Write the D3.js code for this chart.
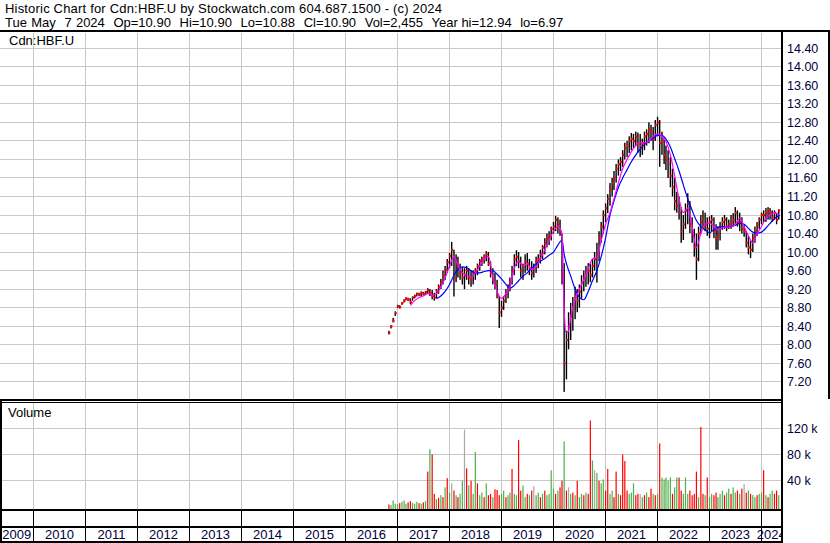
<!DOCTYPE html>
<html>
<head>
<meta charset="utf-8">
<script src="https://cdn.jsdelivr.net/npm/d3@7"></script>
<style>
  html, body { margin: 0; padding: 0; background: #fff; }
  svg { display: block; font-family: "Liberation Sans", Arial, sans-serif; }
  .hdr { font-size: 13px; fill: #000; }
  .lbl { font-size: 13px; fill: #000; }
  .axis-label { font-size: 12.5px; fill: #00003c; }
  .year-label { font-size: 13px; fill: #00003c; }
</style>
</head>
<body>
<div id="chart"></div>
<script>
////////////////////////////////////////////////////////////////////
////////////////////////////  Data  ////////////////////////////////
const title = "Historic Chart for Cdn:HBF.U by Stockwatch.com 604.687.1500 - (c) 2024";
const quoteFields = ["Tue", "May", "7", "2024", "Op=10.90", "Hi=10.90", "Lo=10.88", "Cl=10.90", "Vol=2,455", "Year hi=12.94", "lo=6.97"];
const symbol = "Cdn:HBF.U";

// half-month slots (1st and 16th) starting Nov 2016
const firstSlot = "2016-11-01";

const hi = [
  8.30, 8.42, 8.58, 8.72,
  8.86, 8.85, 8.92, 8.98, 9.02, 9.01, 9.00, 9.04, 9.08, 9.12, 9.12, 9.15,
  9.14, 9.16, 9.22, 9.20, 9.18, 9.12, 9.20, 9.30, 9.42, 9.60, 9.70, 9.85,
  9.98, 10.22, 10.05, 9.95, 9.90, 9.75, 9.68, 9.65, 9.70, 9.65, 9.60, 9.60,
  9.65, 9.75, 9.85, 9.90, 9.95, 10.02, 10.00, 9.80, 9.65, 9.55, 9.40, 9.05,
  8.95, 9.05, 9.20, 9.30, 9.45, 9.70, 9.95, 10.04, 10.00, 9.90, 9.75, 9.95,
  9.98, 9.85, 9.80, 9.75, 9.90, 9.95, 10.05, 10.15, 10.30, 10.40, 10.45, 10.55,
  10.65, 10.78, 10.75, 10.70, 10.40, 9.76, 8.30, 8.70, 8.90, 9.03, 9.25, 9.20,
  9.30, 9.50, 9.60, 9.70, 9.76, 9.75, 9.85, 10.00, 10.20, 10.45, 10.65, 10.90,
  11.05, 11.25, 11.49, 11.60, 11.75, 11.90, 12.00, 12.05, 12.20, 12.36, 12.40, 12.50,
  12.57, 12.55, 12.60, 12.58, 12.55, 12.45, 12.60, 12.65, 12.80, 12.75, 12.70, 12.85,
  12.92, 12.85, 12.60, 12.45, 12.30, 12.20, 12.05, 11.80, 11.60, 11.30, 11.20, 10.97,
  10.80, 11.05, 11.27, 11.10, 10.75, 10.50, 10.40, 10.55, 10.80, 10.90, 10.85, 10.75,
  10.77, 10.80, 10.75, 10.60, 10.55, 10.65, 10.75, 10.80, 10.75, 10.70, 10.80, 10.84,
  10.97, 10.90, 10.85, 10.75, 10.60, 10.45, 10.35, 10.25, 10.40, 10.55, 10.65, 10.75,
  10.85, 10.90, 10.95, 10.97, 10.95, 10.90, 10.90, 10.85, 10.92
];
const lo = [
  8.22, 8.35, 8.48, 8.62,
  8.79, 8.78, 8.86, 8.91, 8.96, 8.94, 8.88, 8.95, 9.00, 9.04, 9.05, 9.05,
  9.06, 9.08, 9.10, 9.05, 8.98, 8.95, 9.00, 9.10, 9.20, 9.30, 9.40, 9.55,
  9.65, 9.70, 9.04, 9.35, 9.45, 9.40, 9.30, 9.20, 9.40, 9.30, 9.25, 9.30,
  9.40, 9.50, 9.60, 9.70, 9.75, 9.80, 9.70, 9.45, 9.30, 9.20, 9.00, 8.36,
  8.60, 8.75, 8.90, 9.00, 9.15, 9.30, 9.50, 9.70, 9.65, 9.45, 9.40, 9.55,
  9.60, 9.50, 9.40, 9.45, 9.55, 9.65, 9.75, 9.85, 9.95, 10.10, 10.15, 10.25,
  10.40, 10.45, 10.40, 10.35, 9.30, 6.98, 7.25, 7.90, 8.10, 8.30, 8.55, 8.70,
  8.80, 9.00, 9.15, 9.25, 9.30, 9.35, 9.45, 9.60, 9.34, 9.80, 10.20, 10.40,
  10.65, 10.84, 11.00, 11.20, 11.34, 11.50, 11.65, 11.75, 11.84, 12.00, 12.05, 12.14,
  12.20, 12.25, 12.30, 12.15, 12.05, 12.10, 12.20, 12.30, 12.35, 12.40, 12.20, 12.40,
  12.50, 11.84, 12.10, 11.90, 11.77, 11.60, 11.40, 11.20, 10.90, 10.85, 10.70, 10.20,
  10.26, 10.50, 10.60, 10.41, 10.20, 9.90, 9.40, 9.80, 10.40, 10.50, 10.45, 10.35,
  10.30, 10.45, 10.30, 10.05, 10.05, 10.25, 10.48, 10.50, 10.45, 10.50, 10.50, 10.55,
  10.60, 10.55, 10.45, 10.40, 10.33, 10.10, 9.95, 9.87, 10.00, 10.20, 10.35, 10.50,
  10.60, 10.65, 10.65, 10.70, 10.70, 10.65, 10.70, 10.60, 10.70
];
const close = [
  8.26, 8.40, 8.52, 8.68,
  8.83, 8.81, 8.90, 8.95, 9.00, 8.98, 8.92, 9.02, 9.05, 9.10, 9.08, 9.12,
  9.10, 9.14, 9.18, 9.12, 9.05, 9.02, 9.15, 9.25, 9.35, 9.50, 9.62, 9.78,
  9.92, 10.05, 9.45, 9.80, 9.70, 9.55, 9.45, 9.50, 9.60, 9.45, 9.40, 9.55,
  9.60, 9.70, 9.80, 9.85, 9.90, 9.95, 9.75, 9.55, 9.40, 9.30, 9.05, 8.70,
  8.80, 8.95, 9.10, 9.22, 9.35, 9.60, 9.85, 9.90, 9.80, 9.60, 9.70, 9.80,
  9.75, 9.65, 9.55, 9.65, 9.80, 9.85, 9.95, 10.10, 10.20, 10.30, 10.35, 10.50,
  10.55, 10.70, 10.60, 10.45, 9.50, 7.60, 8.10, 8.40, 8.60, 8.80, 9.05, 8.95,
  9.15, 9.35, 9.45, 9.55, 9.60, 9.50, 9.70, 9.85, 9.95, 10.30, 10.55, 10.80,
  10.95, 11.15, 11.35, 11.50, 11.60, 11.80, 11.90, 11.95, 12.10, 12.25, 12.30, 12.40,
  12.45, 12.40, 12.50, 12.35, 12.30, 12.35, 12.50, 12.55, 12.65, 12.60, 12.45, 12.75,
  12.80, 12.35, 12.40, 12.10, 12.00, 11.90, 11.65, 11.40, 11.10, 11.00, 10.85, 10.45,
  10.60, 10.90, 11.05, 10.60, 10.40, 10.10, 9.85, 10.40, 10.65, 10.75, 10.60, 10.50,
  10.65, 10.70, 10.45, 10.30, 10.35, 10.55, 10.65, 10.70, 10.55, 10.60, 10.65, 10.70,
  10.85, 10.65, 10.65, 10.50, 10.45, 10.20, 10.10, 10.05, 10.30, 10.45, 10.60, 10.70,
  10.80, 10.80, 10.85, 10.90, 10.85, 10.75, 10.85, 10.70, 10.90
];
// volume in thousands per slot
const volume = [
  4, 3, 10, 5,
  4, 6, 8, 10, 5, 7, 9, 6, 5, 8, 6, 5,
  7, 9, 54, 88, 80, 20, 12, 14, 18, 15, 30, 44,
  22, 36, 25, 18, 15, 20, 40, 118, 59, 33, 40, 20,
  84, 36, 18, 22, 15, 36, 18, 20, 15, 27, 26, 18,
  20, 25, 15, 18, 22, 58, 20, 18, 102, 25, 33, 15,
  20, 18, 25, 32, 18, 22, 15, 20, 25, 18, 20, 56,
  28, 20, 25, 30, 40, 100, 25, 30, 20, 22, 18, 40,
  15, 20, 18, 22, 20, 132, 71, 56, 52, 40, 36, 42,
  25, 58, 20, 25, 15, 54, 20, 18, 80, 70, 25, 20,
  22, 36, 18, 20, 20, 15, 18, 22, 15, 28, 20, 18,
  20, 97, 45, 42, 45, 40, 45, 20, 30, 45, 45, 25,
  20, 45, 20, 25, 18, 20, 54, 15, 122, 20, 18, 45,
  15, 20, 18, 22, 15, 20, 25, 18, 22, 28, 20, 30,
  22, 25, 20, 28, 35, 22, 25, 20, 18, 15, 18, 20,
  22, 56, 18, 15, 20, 25, 20, 25, 18
];
// bar colour per slot: u = up (green), d = down (red), n = unchanged (grey)
const volDir = [
  "duuu",
  "uduuudduuudud" + "ududdududud",
  "undudu" + "undudu" + "uduudu" + "dduddd",
  "uuduud" + "uudduu" + "dudnuu" + "duduuu",
  "ududdu" + "dnudud" + "uududd" + "unuduu",
  "dduudd" + "uddddu" + "uuddnu" + "duddud",
  "uduuuu" + "uduudd" + "uuuddd" + "duddud",
  "uudduu" + "uduudu" + "ududnd" + "uduudu",
  "ududuuddu"
].join("");

// moving averages (short = magenta, long = blue)
const maShort = [
  ["2017-04-01", 8.85], ["2017-05-01", 8.95], ["2017-06-01", 9.02], ["2017-07-01", 9.05],
  ["2017-08-01", 9.10], ["2017-09-01", 9.07], ["2017-10-01", 9.10], ["2017-11-01", 9.25],
  ["2017-12-01", 9.44], ["2018-01-01", 9.70], ["2018-02-01", 9.90], ["2018-03-01", 9.72],
  ["2018-04-01", 9.55], ["2018-05-01", 9.50], ["2018-06-01", 9.45], ["2018-07-01", 9.55],
  ["2018-08-01", 9.70], ["2018-09-01", 9.85], ["2018-10-01", 9.90], ["2018-11-01", 9.45],
  ["2018-12-01", 9.15], ["2019-01-01", 9.00], ["2019-02-01", 9.10], ["2019-03-01", 9.25],
  ["2019-04-01", 9.65], ["2019-05-01", 9.80], ["2019-06-01", 9.70], ["2019-07-01", 9.75],
  ["2019-08-01", 9.62], ["2019-09-01", 9.68], ["2019-10-01", 9.85], ["2019-11-01", 10.05],
  ["2019-12-01", 10.25], ["2020-01-01", 10.45], ["2020-02-01", 10.55], ["2020-03-01", 10.40],
  ["2020-03-16", 8.75], ["2020-04-01", 8.25], ["2020-04-16", 8.30], ["2020-05-01", 8.60],
  ["2020-06-01", 8.97], ["2020-07-01", 9.20], ["2020-08-01", 9.40], ["2020-09-01", 9.65],
  ["2020-10-01", 9.85], ["2020-11-01", 9.88], ["2020-12-01", 10.25], ["2021-01-01", 10.60],
  ["2021-02-01", 10.85], ["2021-03-01", 11.15], ["2021-04-01", 11.50], ["2021-05-01", 11.80],
  ["2021-06-01", 12.00], ["2021-07-01", 12.17], ["2021-08-01", 12.30], ["2021-09-01", 12.36],
  ["2021-10-01", 12.36], ["2021-11-01", 12.40], ["2021-12-01", 12.50], ["2022-01-01", 12.55],
  ["2022-02-01", 12.50], ["2022-03-01", 12.38], ["2022-04-01", 12.10], ["2022-05-01", 11.65],
  ["2022-06-01", 11.15], ["2022-07-01", 10.85], ["2022-08-01", 10.95], ["2022-09-01", 10.55],
  ["2022-10-01", 10.10], ["2022-11-01", 10.40], ["2022-12-01", 10.60], ["2023-01-01", 10.63],
  ["2023-02-01", 10.55], ["2023-03-01", 10.48], ["2023-04-01", 10.52], ["2023-05-01", 10.54],
  ["2023-06-01", 10.54], ["2023-07-01", 10.60], ["2023-08-01", 10.73], ["2023-09-01", 10.55],
  ["2023-10-01", 10.35], ["2023-11-01", 10.20], ["2023-12-01", 10.40], ["2024-01-01", 10.55],
  ["2024-02-01", 10.74], ["2024-03-01", 10.80], ["2024-04-01", 10.84], ["2024-05-07", 10.80]
];
const maLong = [
  ["2017-10-01", 8.99], ["2017-11-01", 9.05], ["2017-12-01", 9.15], ["2018-01-01", 9.30],
  ["2018-02-01", 9.50], ["2018-03-01", 9.63], ["2018-04-01", 9.68], ["2018-05-01", 9.66],
  ["2018-06-01", 9.60], ["2018-07-01", 9.55], ["2018-08-01", 9.55], ["2018-09-01", 9.58],
  ["2018-10-01", 9.60], ["2018-11-01", 9.60], ["2018-12-01", 9.52], ["2019-01-01", 9.42],
  ["2019-02-01", 9.30], ["2019-03-01", 9.22], ["2019-04-01", 9.28], ["2019-05-01", 9.38],
  ["2019-06-01", 9.48], ["2019-07-01", 9.55], ["2019-08-01", 9.65], ["2019-09-01", 9.74],
  ["2019-10-01", 9.80], ["2019-11-01", 9.86], ["2019-12-01", 9.93], ["2020-01-01", 10.00],
  ["2020-02-01", 10.15], ["2020-03-01", 10.26], ["2020-03-16", 9.95], ["2020-04-01", 9.75],
  ["2020-05-01", 9.48], ["2020-06-01", 9.20], ["2020-07-01", 9.02], ["2020-08-01", 8.97],
  ["2020-09-01", 9.15], ["2020-10-01", 9.38], ["2020-11-01", 9.60], ["2020-12-01", 9.90],
  ["2021-01-01", 10.30], ["2021-02-01", 10.80], ["2021-03-01", 11.10], ["2021-04-01", 11.40],
  ["2021-05-01", 11.60], ["2021-06-01", 11.78], ["2021-07-01", 11.95], ["2021-08-01", 12.10],
  ["2021-09-01", 12.22], ["2021-10-01", 12.32], ["2021-11-01", 12.40], ["2021-12-01", 12.46],
  ["2022-01-01", 12.52], ["2022-02-01", 12.52], ["2022-03-01", 12.44], ["2022-04-01", 12.27],
  ["2022-05-01", 12.02], ["2022-06-01", 11.75], ["2022-07-01", 11.45], ["2022-08-01", 11.15],
  ["2022-09-01", 10.90], ["2022-10-01", 10.68], ["2022-11-01", 10.55], ["2022-12-01", 10.48],
  ["2023-01-01", 10.42], ["2023-02-01", 10.48], ["2023-03-01", 10.54], ["2023-04-01", 10.55],
  ["2023-05-01", 10.54], ["2023-06-01", 10.55], ["2023-07-01", 10.58], ["2023-08-01", 10.62],
  ["2023-09-01", 10.60], ["2023-10-01", 10.51], ["2023-11-01", 10.43], ["2023-12-01", 10.41],
  ["2024-01-01", 10.43], ["2024-02-01", 10.52], ["2024-03-01", 10.62], ["2024-04-01", 10.72],
  ["2024-05-07", 10.80]
];

// ticks
const priceTicks = [7.2, 7.6, 8.0, 8.4, 8.8, 9.2, 9.6, 10.0, 10.4, 10.8, 11.2, 11.6, 12.0, 12.4, 12.8, 13.2, 13.6, 14.0, 14.4];
const volTicks = [40, 80, 120];
const years = [2009, 2010, 2011, 2012, 2013, 2014, 2015, 2016, 2017, 2018, 2019, 2020, 2021, 2022, 2023, 2024];

////////////////////////////////////////////////////////////////////
////////////////////////////  Init  ////////////////////////////////
const width = 830;
const height = 543;
const plotRight = 781;      // right axis line
const price = { top: 33, bottom: 399 };
const vol = { top: 403, bottom: 509 };

const svg = d3.select("#chart").append("svg")
  .attr("width", width).attr("height", height);

const parse = d3.timeParse("%Y-%m-%d");

const xScale = d3.scaleTime()
  .domain([new Date(2010, 0, 1), new Date(2024, 0, 1)])
  .range([33.5, 761.5]);
const yScale = d3.scaleLinear().domain([7.2, 14.4]).range([381.7, 48.3]);
const vScale = d3.scaleLinear().domain([0, 120]).range([507, 428.3]);

// half-month slot dates
const start = parse(firstSlot);
const months = d3.timeMonth.range(start, new Date(2024, 5, 1));
const slotDates = months.flatMap((m) => [m, d3.timeDay.offset(m, 15)]).slice(0, hi.length);
const bars = slotDates.map((d, i) => ({
  date: d, hi: hi[i], lo: lo[i], close: close[i], vol: volume[i], dir: volDir[i] || "u"
}));

const volColor = { u: "#4cb04a", d: "#ff0000", n: "#a8a8a8" };

// clips
const defs = svg.append("defs");
defs.append("clipPath").attr("id", "clip-price").append("rect")
  .attr("x", 0).attr("y", price.top).attr("width", plotRight).attr("height", price.bottom - price.top);
defs.append("clipPath").attr("id", "clip-vol").append("rect")
  .attr("x", 0).attr("y", vol.top).attr("width", plotRight).attr("height", vol.bottom - vol.top);
defs.append("clipPath").attr("id", "clip-axis").append("rect")
  .attr("x", 0).attr("y", 500).attr("width", plotRight).attr("height", 43);

const yearStarts = years.slice(1).map((y) => xScale(new Date(y, 0, 1)));

////////////////////////////  Header  //////////////////////////////
svg.append("text").attr("class", "hdr").attr("x", 5).attr("y", 13)
  .attr("textLength", 437).attr("lengthAdjust", "spacing")
  .text(title);

// quote line: fields laid out one after another, single gap after Tue and 7, double elsewhere
const quote = svg.append("text").attr("class", "hdr").attr("y", 27);
const spans = quote.selectAll("tspan").data(quoteFields).enter().append("tspan").text((d) => d);
const widths = spans.nodes().map((n) => n.getComputedTextLength());
const gapUnits = [1, 2, 1, 2, 2, 2, 2, 2, 2, 2];
const yearIdx = 9;
const usedBeforeYear = d3.sum(widths.slice(0, yearIdx));
const unitsBeforeYear = d3.sum(gapUnits.slice(0, yearIdx));
const unit = (431.5 - 5 - usedBeforeYear) / unitsBeforeYear;
let cursor = 5;
spans.attr("x", (d, i) => {
  const x = cursor;
  cursor += widths[i] + (gapUnits[i] || 0) * unit;
  return x;
});

////////////////////////////  Grids  ///////////////////////////////
const grid = svg.append("g").attr("stroke", "#c8c8c8").attr("stroke-width", 1)
  .attr("shape-rendering", "crispEdges");

grid.selectAll(".vgp").data(yearStarts).enter().append("line")
  .attr("x1", (d) => d).attr("x2", (d) => d)
  .attr("y1", price.top).attr("y2", price.bottom);
grid.selectAll(".vgv").data(yearStarts).enter().append("line")
  .attr("x1", (d) => d).attr("x2", (d) => d)
  .attr("y1", vol.top).attr("y2", vol.bottom);
grid.selectAll(".hgp").data(priceTicks).enter().append("line")
  .attr("x1", 0).attr("x2", plotRight)
  .attr("y1", (d) => yScale(d)).attr("y2", (d) => yScale(d));
grid.selectAll(".hgv").data(volTicks).enter().append("line")
  .attr("x1", 0).attr("x2", plotRight)
  .attr("y1", (d) => vScale(d)).attr("y2", (d) => vScale(d));

////////////////////////////  Price  ///////////////////////////////
const pg = svg.append("g").attr("clip-path", "url(#clip-price)");

pg.selectAll(".bar").data(bars).enter().append("rect")
  .attr("x", (d) => xScale(d.date) - 0.7)
  .attr("y", (d) => yScale(d.hi))
  .attr("width", 1.4)
  .attr("height", (d) => Math.max(1, yScale(d.lo) - yScale(d.hi)))
  .attr("fill", "#000");

pg.selectAll(".dot").data(bars).enter().append("rect")
  .attr("x", (d) => xScale(d.date) - 0.5)
  .attr("y", (d) => yScale(d.close) - 1)
  .attr("width", 2).attr("height", 2.2)
  .attr("fill", "#ff0000");

const line = d3.line()
  .x((d) => xScale(parse(d[0])))
  .y((d) => yScale(d[1]))
  .curve(d3.curveMonotoneX);

pg.append("path").datum(maLong).attr("d", line)
  .attr("fill", "none").attr("stroke", "#0000ff").attr("stroke-width", 1.2);
pg.append("path").datum(maShort).attr("d", line)
  .attr("fill", "none").attr("stroke", "#ff00ff").attr("stroke-width", 1.2);

////////////////////////////  Volume  //////////////////////////////
const vg = svg.append("g").attr("clip-path", "url(#clip-vol)");
vg.selectAll(".vbar").data(bars).enter().append("rect")
  .attr("x", (d) => xScale(d.date) - 0.6)
  .attr("y", (d) => vScale(d.vol))
  .attr("width", 1.2)
  .attr("height", (d) => vol.bottom - vScale(d.vol))
  .attr("fill", (d) => volColor[d.dir]);

////////////////////////////  Labels  //////////////////////////////
svg.append("text").attr("class", "lbl").attr("x", 9).attr("y", 45).text(symbol);
svg.append("text").attr("class", "lbl").attr("x", 8).attr("y", 417).text("Volume");

svg.selectAll(".plabel").data(priceTicks).enter().append("text")
  .attr("class", "axis-label")
  .attr("x", 787).attr("y", (d) => yScale(d)).attr("dy", "0.36em")
  .text((d) => d.toFixed(2));
svg.selectAll(".vlabel").data(volTicks).enter().append("text")
  .attr("class", "axis-label")
  .attr("x", 787).attr("y", (d) => vScale(d)).attr("dy", "0.36em")
  .text((d) => d + " k");

////////////////////////////  Frame  ///////////////////////////////
const frame = svg.append("g").attr("fill", "#000").attr("shape-rendering", "crispEdges");
frame.append("rect").attr("x", 0).attr("y", 30).attr("width", width).attr("height", 2);
frame.append("rect").attr("x", plotRight).attr("y", 30).attr("width", 2).attr("height", height - 30);
frame.append("rect").attr("x", width - 2).attr("y", 30).attr("width", 2).attr("height", price.bottom - 30);
frame.append("rect").attr("x", 0).attr("y", 399).attr("width", plotRight).attr("height", 2);
frame.append("rect").attr("x", 0).attr("y", 402).attr("width", plotRight).attr("height", 1);
frame.append("rect").attr("x", 0).attr("y", 509).attr("width", plotRight).attr("height", 2);
frame.append("rect").attr("x", 0).attr("y", 526).attr("width", plotRight).attr("height", 2);
frame.append("rect").attr("x", 0).attr("y", 541).attr("width", plotRight).attr("height", 2);
frame.append("rect").attr("x", 0).attr("y", 399).attr("width", 2).attr("height", height - 399);

// year ticks and labels
const ax = svg.append("g").attr("clip-path", "url(#clip-axis)");
ax.selectAll(".ytick").data(yearStarts).enter().append("line")
  .attr("x1", (d) => d).attr("x2", (d) => d)
  .attr("y1", 511).attr("y2", 541)
  .attr("stroke", "#000").attr("stroke-width", 1).attr("shape-rendering", "crispEdges");

const bounds = [0, ...yearStarts, plotRight];
ax.selectAll(".ylab").data(years).enter().append("text")
  .attr("class", "year-label")
  .attr("x", (d, i) => (bounds[i] + bounds[i + 1]) / 2)
  .attr("y", 539)
  .attr("text-anchor", "middle")
  .text((d) => d);
</script>
</body>
</html>
